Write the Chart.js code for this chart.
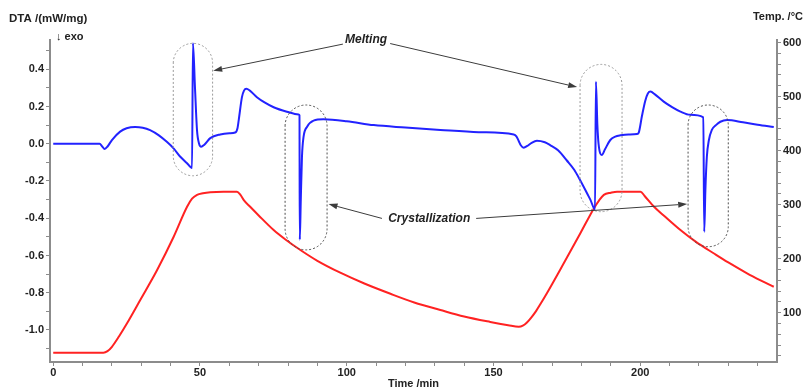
<!DOCTYPE html>
<html>
<head>
<meta charset="utf-8">
<script src="https://cdn.jsdelivr.net/npm/chart.js@4.4.1/dist/chart.umd.min.js"></script>
<style>
    html, body { margin: 0; padding: 0; background: #fff; }
    #wrap { width: 804px; height: 391px; position: relative; }
</style>
</head>
<body>
<div id="wrap"><canvas id="dtaChart"></canvas></div>
<script>
// DTA signal (left axis), time in minutes
const dtaTime = [0, 10, 15.8, 16.7, 17.5, 18.5, 20, 22.8, 25, 27.9, 30.5, 33, 36, 38.7, 41, 43.3, 45.5, 47.3,
    47.6, 48.3, 49, 49.7, 50.4, 51.5, 53.5, 56.9, 60, 62, 62.8, 63.2, 64.3, 65, 65.8, 67, 69.4, 72, 75.1, 79.6,
    83.6, 83.9, 84.0, 84.35, 84.75, 85.3, 86.5, 88.7, 92.1, 100, 109.2, 120, 131.9, 145, 156.9, 157.8, 158.6,
    159.3, 160.3, 161.5, 163, 164.8, 167.5, 169.3, 172, 175, 177.5, 179.5, 182, 183, 184.6, 184.9, 185.4, 185.8,
    186.9, 188, 189.8, 191.5, 193.3, 196, 198.9, 199.5, 200.6, 201.7, 202.6, 203.5, 205, 208, 211, 213.7, 217,
    221.5, 221.8, 222.2, 222.7, 223.4, 224.4, 225.8, 227.3, 229.6, 235, 240, 245.5];
const dtaValue = [0.0, 0.0, 0.0, -0.015, -0.028, -0.015, 0.02, 0.065, 0.083, 0.09, 0.086, 0.073, 0.045, 0.01, -0.025, -0.07, -0.103, -0.13,
    0.54, 0.3, 0.07, 0.0, -0.016, -0.005, 0.03, 0.05, 0.056, 0.06, 0.085, 0.127, 0.25, 0.285, 0.295, 0.285, 0.25, 0.222, 0.196, 0.172,
    0.157, 0.152, -0.515, -0.3, -0.07, 0.038, 0.091, 0.124, 0.131, 0.121, 0.10, 0.087, 0.074, 0.062, 0.05, 0.04, 0.015,
    -0.008, -0.021, -0.012, 0.005, 0.016, 0.008, -0.007, -0.035, -0.09, -0.14, -0.195, -0.27, -0.30, -0.353, 0.333, 0.1, 0.0,
    -0.06, -0.03, 0.02, 0.038, 0.045, 0.05, 0.052, 0.06, 0.15, 0.23, 0.27, 0.28, 0.265, 0.226, 0.195, 0.172, 0.155,
    0.142, -0.473, -0.25, -0.07, 0.02, 0.074, 0.1, 0.118, 0.127, 0.115, 0.102, 0.09];

// Furnace temperature (right axis)
const tempTime = [0, 10, 17.1, 18.5, 20, 22.5, 25.1, 29.7, 35.4, 41, 45.6, 47.3, 49, 51, 53.5, 58, 62.6, 63.8, 65,
    67.1, 70, 75.1, 79, 84.2, 90, 97.8, 106, 114.9, 123, 131.9, 140, 148.9, 155, 158.6, 160, 161.4, 163, 164.5, 166, 168.2,
    173.9, 179.6, 184.2, 186, 187.6, 190, 192.1, 196, 200.1, 201.5, 204.7, 208, 213.7, 219, 225, 230, 236.4, 241, 245.5];
const tempValue = [26, 26, 26, 29, 37, 57, 80, 124, 179, 240, 296, 311, 318, 321, 323, 324, 324, 318, 308,
    296, 280, 253, 236, 216, 196, 174, 154, 135, 119, 105, 93, 83, 77, 74, 76, 82, 92, 103, 116, 136,
    191, 247, 293, 308, 318, 322, 324, 324, 324, 316, 296, 280, 253, 231, 210, 193, 173, 160, 148];

// Axis ticks
const timeTicks = [0, 50, 100, 150, 200];
const timeMinor = [10, 20, 30, 40, 60, 70, 80, 90, 110, 120, 130, 140, 160, 170, 180, 190, 210, 220, 230, 240];
const dtaTicks = [-1.0, -0.8, -0.6, -0.4, -0.2, 0.0, 0.2, 0.4];
const dtaMinor = [-1.1, -0.9, -0.7, -0.5, -0.3, -0.1, 0.1, 0.3, 0.5];
const tempTicks = [100, 200, 300, 400, 500, 600];
const tempMinor = [20, 40, 60, 80, 120, 140, 160, 180, 220, 240, 260, 280, 320, 340, 360, 380, 420, 440, 460, 480, 520, 540, 560, 580];

// Marked peaks: [t0, t1, top, bottom] in time / DTA units
const peakBoxes = [
    [40.9, 54.3, 0.539, -0.172],
    [79.0, 93.3, 0.208, -0.570],
    [179.5, 193.8, 0.426, -0.365],
    [216.3, 230.0, 0.208, -0.553]
];
const boxColors = ['#9a9a9a', '#505050', '#9a9a9a', '#505050'];
const peakLabels = ['Melting', 'Crystallization'];
const labelPos = [[106.6, 0.561], [128.1, -0.404]];
// leader lines: [fromT, fromV, toT, toV]
const leaders = [
    [98.7, 0.535, 54.5, 0.392],
    [114.8, 0.538, 178.5, 0.304],
    [112.0, -0.401, 93.8, -0.324],
    [144.1, -0.401, 216.0, -0.324]
];

const FONT = '"Liberation Sans", Arial, sans-serif';
const axisGray = '#8c8c8c';
const textDark = '#222';

function toPoints(xs, ys) {
    return xs.map((x, i) => ({ x: x, y: ys[i] }));
}

function setTicks(major, minor) {
    return scale => {
        scale.ticks = major.concat(minor).sort((a, b) => a - b).map(v => ({ value: v }));
    };
}

function isMajor(list, v) {
    return list.some(m => Math.abs(m - v) < 1e-6);
}

const annotations = {
    id: 'annotations',
    afterDraw(chart) {
        const ctx = chart.ctx;
        const xs = chart.scales.x;
        const ys = chart.scales.y;
        const px = t => xs.getPixelForValue(t);
        const py = v => ys.getPixelForValue(v);
        ctx.save();

        // dashed capsules around the peaks
        ctx.lineWidth = 1;
        ctx.setLineDash([2, 2]);
        peakBoxes.forEach((b, i) => {
            const x0 = px(b[0]), x1 = px(b[1]);
            const y0 = py(b[2]), y1 = py(b[3]);
            const r = (x1 - x0) / 2;
            const cx = (x0 + x1) / 2;
            ctx.strokeStyle = boxColors[i];
            ctx.beginPath();
            ctx.arc(cx, y0 + r, r, Math.PI, 0);
            ctx.lineTo(x1, y1 - r);
            ctx.arc(cx, y1 - r, r, 0, Math.PI);
            ctx.closePath();
            ctx.stroke();
        });
        ctx.setLineDash([]);

        // leader arrows
        ctx.strokeStyle = '#3c3c3c';
        ctx.fillStyle = '#3c3c3c';
        leaders.forEach(a => {
            const x0 = px(a[0]), y0 = py(a[1]);
            const x1 = px(a[2]), y1 = py(a[3]);
            const ang = Math.atan2(y1 - y0, x1 - x0);
            const len = 9, half = 3;
            ctx.beginPath();
            ctx.moveTo(x0, y0);
            ctx.lineTo(x1 - Math.cos(ang) * len, y1 - Math.sin(ang) * len);
            ctx.stroke();
            ctx.beginPath();
            ctx.moveTo(x1, y1);
            ctx.lineTo(x1 - Math.cos(ang) * len - Math.sin(ang) * half, y1 - Math.sin(ang) * len + Math.cos(ang) * half);
            ctx.lineTo(x1 - Math.cos(ang) * len + Math.sin(ang) * half, y1 - Math.sin(ang) * len - Math.cos(ang) * half);
            ctx.closePath();
            ctx.fill();
        });

        // peak labels
        ctx.fillStyle = textDark;
        ctx.font = 'italic bold 12px ' + FONT;
        ctx.textAlign = 'center';
        ctx.textBaseline = 'middle';
        peakLabels.forEach((txt, i) => {
            ctx.fillText(txt, px(labelPos[i][0]), py(labelPos[i][1]));
        });

        // axis captions
        ctx.font = 'bold 11.5px ' + FONT;
        ctx.textAlign = 'left';
        ctx.fillText('DTA /(mW/mg)', 9, 19);
        ctx.font = 'bold 11px ' + FONT;
        ctx.fillText('\u2193 exo', 56, 37);
        ctx.textAlign = 'right';
        ctx.fillText('Temp. /\u00B0C', 803, 17);
        ctx.restore();
    }
};

const tickFont = { family: FONT, size: 11, weight: 'bold' };

new Chart(document.getElementById('dtaChart').getContext('2d'), {
    type: 'line',
    data: {
        datasets: [
            {
                label: 'DTA',
                data: toPoints(dtaTime, dtaValue),
                yAxisID: 'y',
                borderColor: '#2222ff',
                borderWidth: 2,
                pointRadius: 0,
                cubicInterpolationMode: 'monotone',
                fill: false
            },
            {
                label: 'Temp.',
                data: toPoints(tempTime, tempValue),
                yAxisID: 'y2',
                borderColor: '#ff2222',
                borderWidth: 2,
                pointRadius: 0,
                cubicInterpolationMode: 'monotone',
                fill: false
            }
        ]
    },
    options: {
        responsive: true,
        maintainAspectRatio: false,
        animation: false,
        layout: { padding: { top: 40, left: 0, right: 0, bottom: 0 } },
        plugins: {
            legend: { display: false },
            title: { display: false },
            tooltip: { enabled: false }
        },
        scales: {
            x: {
                type: 'linear',
                min: -1.1,
                max: 246.6,
                afterBuildTicks: setTicks(timeTicks, timeMinor),
                afterFit: s => { s.height = 29; },
                ticks: {
                    autoSkip: false,
                    maxRotation: 0,
                    padding: 0,
                    color: textDark,
                    font: tickFont,
                    callback: v => isMajor(timeTicks, v) ? String(v) : ''
                },
                grid: { drawOnChartArea: false, drawTicks: true, tickLength: 4, color: axisGray, lineWidth: 1 },
                border: { display: true, color: axisGray, width: 2 },
                title: {
                    display: true,
                    text: 'Time /min',
                    color: textDark,
                    font: { family: FONT, size: 11, weight: 'bold' },
                    padding: { top: 0, bottom: 0.5 }
                }
            },
            y: {
                type: 'linear',
                position: 'left',
                min: -1.172,
                max: 0.557,
                afterBuildTicks: setTicks(dtaTicks, dtaMinor),
                afterFit: s => { s.width = 50; },
                ticks: {
                    autoSkip: false,
                    padding: 2,
                    color: textDark,
                    font: tickFont,
                    callback: v => isMajor(dtaTicks, v) ? v.toFixed(1) : ''
                },
                grid: { drawOnChartArea: false, drawTicks: true, tickLength: 4, color: axisGray, lineWidth: 1 },
                border: { display: true, color: axisGray, width: 2 }
            },
            y2: {
                type: 'linear',
                position: 'right',
                min: 8.8,
                max: 604.6,
                afterBuildTicks: setTicks(tempTicks, tempMinor),
                afterFit: s => { s.width = 27; },
                ticks: {
                    autoSkip: false,
                    padding: 2,
                    color: textDark,
                    font: tickFont,
                    callback: v => isMajor(tempTicks, v) ? String(v) : ''
                },
                grid: { drawOnChartArea: false, drawTicks: true, tickLength: 4, color: axisGray, lineWidth: 1 },
                border: { display: true, color: axisGray, width: 2 }
            }
        }
    },
    plugins: [annotations]
});
</script>
</body>
</html>
